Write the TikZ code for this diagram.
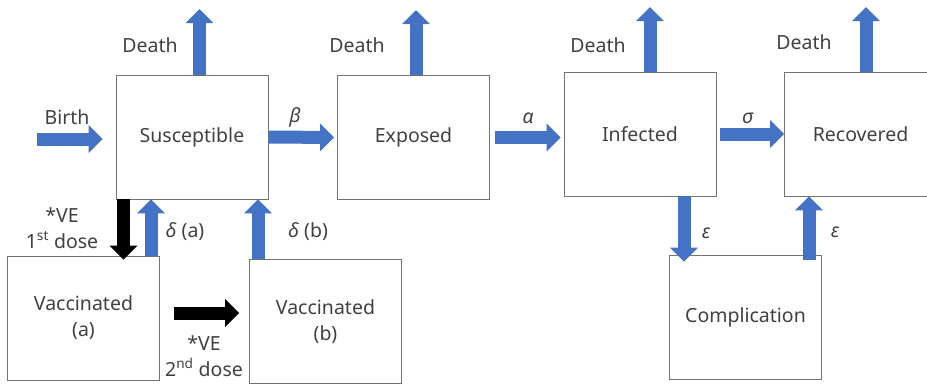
\documentclass[tikz,border=0pt]{standalone}
\usepackage{fontspec}
\setmainfont{Noto Sans}
\usetikzlibrary{arrows.meta}
\definecolor{flowblue}{RGB}{68,114,196}

\begin{document}
\begin{tikzpicture}[x=1pt, y=-1pt,
	box/.style={draw=black!55, line width=0.8pt, minimum width=152pt, minimum height=124pt, inner sep=0pt, align=center, text=black!75, font=\fontsize{19.5}{26}\selectfont},
	lbl/.style={align=center, text=black!75, font=\fontsize{19.5}{26}\selectfont},
	flow/.style={-{Triangle[width=27pt,length=14pt]}, line width=13pt, draw=flowblue},
	vacc/.style={flow, draw=black}]
			%%%%% START %%%%%
			\useasboundingbox (0,0) rectangle (927,386);
			
			\node[box] (sus) at (192,137) {Susceptible};
			\node[box] (exp) at (413.5,137.5) {Exposed};
			\node[box] (inf) at (640,134) {Infected};
			\node[box] (rec) at (860.5,134) {Recovered};
			\node[box] (com) at (745.5,317) {Complication};
			\node[box] (vaca) at (83.5,318) {Vaccinated\\(a)};
			\node[box] (vacb) at (325.5,321.5) {Vaccinated\\(b)};
			
			\coordinate (birth) at (37,139);
			\draw[flow, shorten >=13pt] (birth) -- (birth -| sus.west);
			\node[lbl] (birthl) at (67,117) {Birth};
			
			\coordinate (dsus) at (199.5,9);
			\coordinate (dexp) at (416,10);
			\coordinate (dinf) at (650,7);
			\coordinate (drec) at (866,7);
			\draw[flow] (dsus |- sus.north) -- (dsus);
			\draw[flow] (dexp |- exp.north) -- (dexp);
			\draw[flow] (dinf |- inf.north) -- (dinf);
			\draw[flow] (drec |- rec.north) -- (drec);
			\node[lbl] (dsusl) at (150,45) {Death};
			\node[lbl] (dexpl) at (357,45) {Death};
			\node[lbl] (dinfl) at (598,45) {Death};
			\node[lbl] (drecl) at (804,42) {Death};
			
			\draw[flow, shorten >=3pt] (sus.east) -- (exp.west);
			\draw[flow, shorten <=5pt, shorten >=3pt] (exp.east) -- (exp.east -| inf.west);
			\draw[flow, shorten <=4pt] (inf.east) -- (rec.west);
			\node[lbl] (betal) at (295,117) {\textit{β}};
			\node[lbl] (alphal) at (528,118) {\textit{α}};
			\node[lbl] (sigmal) at (748,118) {\textit{σ}};
			
			\coordinate (eps1) at (684,0);
			\coordinate (eps2) at (809,0);
			\draw[flow, shorten >=-7pt] (eps1 |- inf.south) -- (eps1 |- com.north);
			\draw[flow, shorten <=-5pt] (eps2 |- com.north) -- (eps2 |- rec.south);
			\node[lbl] (eps1l) at (706,233) {\textit{ε}};
			\node[lbl] (eps2l) at (835,232) {\textit{ε}};
			
			\coordinate (vea) at (123.5,0);
			\coordinate (dela) at (151,0);
			\coordinate (delb) at (258,0);
			\draw[vacc, shorten >=-4pt] (vea |- sus.south) -- (vea |- vaca.north);
			\draw[flow] (dela |- vaca.north) -- (dela |- sus.south);
			\draw[flow] (delb |- vacb.north) -- (delb |- sus.south);
			\node[lbl] (veal) at (62,228) {*VE\\1\textsuperscript{st} dose};
			\node[lbl] (delal) at (185,232) {\textit{δ} (a)};
			\node[lbl] (delbl) at (308,232) {\textit{δ} (b)};
			
			\coordinate (veb) at (0,313);
			\draw[vacc, shorten <=14pt, shorten >=10pt] (veb -| vaca.east) -- (veb -| vacb.west);
			\node[lbl] (vebl) at (204,356) {*VE\\2\textsuperscript{nd} dose};
			%%%%% END %%%%%
\end{tikzpicture}
\end{document}
